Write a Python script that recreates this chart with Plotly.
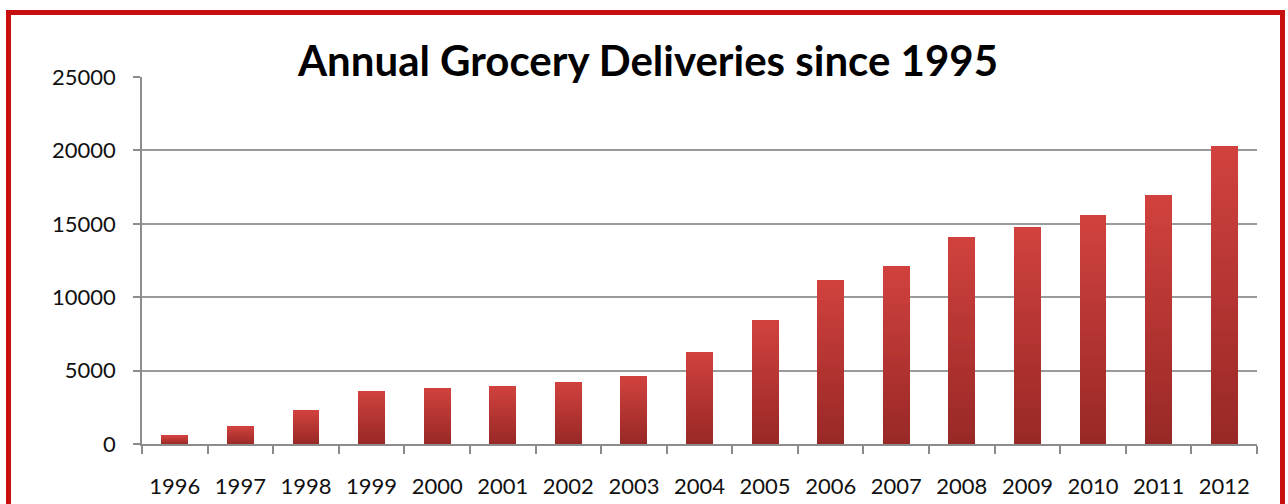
import plotly.graph_objects as go

years = [str(y) for y in range(1996, 2013)]
deliveries = [550, 1220, 2280, 3640, 3800, 3950, 4250, 4600, 6300, 8480,
              11180, 12130, 14120, 14800, 15580, 16960, 20300]
y_ticks = [0, 5000, 10000, 15000, 20000, 25000]
title_text = "Annual Grocery Deliveries since 1995"

W, H = 1288, 504
L, R, T, B = 142, 31, 77, 60

# vertical gradient: bars are drawn as stacked slices of each value
N = 24
top_rgb = (209, 66, 62)
bot_rgb = (152, 40, 38)

fig = go.Figure()
for k in range(N):
    f = (k + 0.5) / N
    c = tuple(round(bot_rgb[i] + (top_rgb[i] - bot_rgb[i]) * f) for i in range(3))
    fig.add_trace(go.Bar(
        x=years,
        y=[v / N for v in deliveries],
        marker=dict(color="rgb(%d,%d,%d)" % c, line=dict(width=0)),
        hoverinfo="skip" if k < N - 1 else None,
        customdata=deliveries,
        hovertemplate="%{x}: %{customdata}<extra></extra>",
        showlegend=False,
    ))

pw = W - L - R
ph = H - T - B

def px_to_paper_x(px):
    return (px - L) / pw

def px_to_paper_y(py):
    return (H - B - py) / ph

fig.update_layout(
    width=W, height=H,
    margin=dict(l=L, r=R, t=T, b=B),
    barmode="stack",
    bargap=0.59,
    plot_bgcolor="white",
    paper_bgcolor="white",
    font=dict(family="Lato", color="#111111", size=22),
    title=dict(
        text="<b>" + title_text + "</b>",
        font=dict(family="Lato", size=42, color="black"),
        x=648 / W, xref="container", xanchor="center",
        y=1 - 61 / H, yref="container", yanchor="middle",
    ),
    xaxis=dict(
        type="category",
        automargin=False,
        showline=True, linecolor="#8c8c8c", linewidth=1.5,
        ticks="outside", tickson="boundaries", ticklen=8,
        tickcolor="#8c8c8c", tickwidth=1.5,
        showgrid=False,
        ticklabelstandoff=22,
    ),
    yaxis=dict(
        automargin=False,
        range=[0, 25000],
        tickvals=y_ticks,
        ticktext=[str(v) for v in y_ticks],
        showgrid=True, gridcolor="#9a9a9a", gridwidth=1.5,
        zeroline=False,
        showline=True, linecolor="#8c8c8c", linewidth=1.5,
        ticks="outside", ticklen=7, tickcolor="#8c8c8c", tickwidth=1.5,
        ticklabelstandoff=13,
    ),
    shapes=[dict(
        type="rect", xref="paper", yref="paper",
        x0=px_to_paper_x(8.5), x1=px_to_paper_x(1282.5),
        y0=px_to_paper_y(512), y1=px_to_paper_y(12.5),
        line=dict(color="#c80f0f", width=5),
        fillcolor="rgba(0,0,0,0)",
        layer="above",
    )],
)

fig.write_html("out.html")
